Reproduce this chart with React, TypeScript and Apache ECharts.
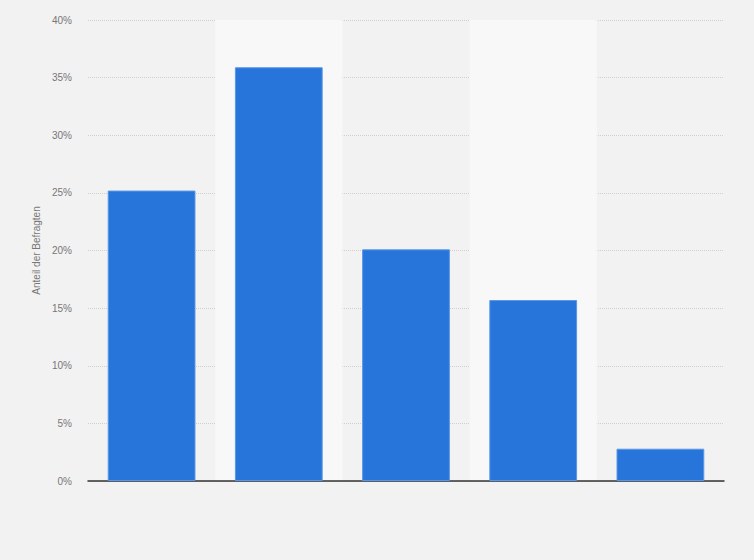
import React, { useEffect, useRef } from 'react';
import * as echarts from 'echarts';

const categories = ['A', 'B', 'C', 'D', 'E'];
const shares = [25.2, 35.9, 20.1, 15.7, 2.8];
const yTicks = [0, 5, 10, 15, 20, 25, 30, 35, 40];

const App = () => {
  const chartRef = useRef<HTMLDivElement>(null);

  useEffect(() => {
    document.body.style.margin = '0';
    const myChart = echarts.init(chartRef.current, null, { renderer: 'svg' });

    const option = {
      animation: false,
      backgroundColor: '#f2f2f2',
      textStyle: { fontFamily: 'Liberation Sans, Arial, sans-serif' },
      grid: { left: 88, right: 30, top: 20, bottom: 79 },
      xAxis: {
        type: 'category',
        data: categories,
        axisLabel: { show: false },
        axisTick: { show: false },
        axisLine: { lineStyle: { color: '#333', width: 1.5 } },
        splitArea: {
          show: true,
          areaStyle: { color: ['rgba(0,0,0,0)', '#f8f8f8'] },
        },
      },
      yAxis: {
        type: 'value',
        min: yTicks[0],
        max: yTicks[yTicks.length - 1],
        interval: 5,
        name: 'Anteil der Befragten',
        nameLocation: 'middle',
        nameRotate: 90,
        nameGap: 45,
        nameTextStyle: { color: '#777', fontSize: 10 },
        axisLabel: { color: '#777', fontSize: 10, formatter: '{value}%', margin: 16 },
        axisLine: { show: false },
        axisTick: { show: false },
        splitLine: { lineStyle: { color: '#cfcfcf', type: [1, 1] } },
      },
      series: [
        {
          type: 'bar',
          data: shares,
          barWidth: '69%',
          itemStyle: { color: '#2775db', borderColor: '#5a96e6', borderWidth: 1 },
        },
      ],
    };

    myChart.setOption(option);
    return () => {
      myChart.dispose();
    };
  }, []);

  return <div ref={chartRef} style={{ width: '754px', height: '560px' }} />;
};

export default App;
